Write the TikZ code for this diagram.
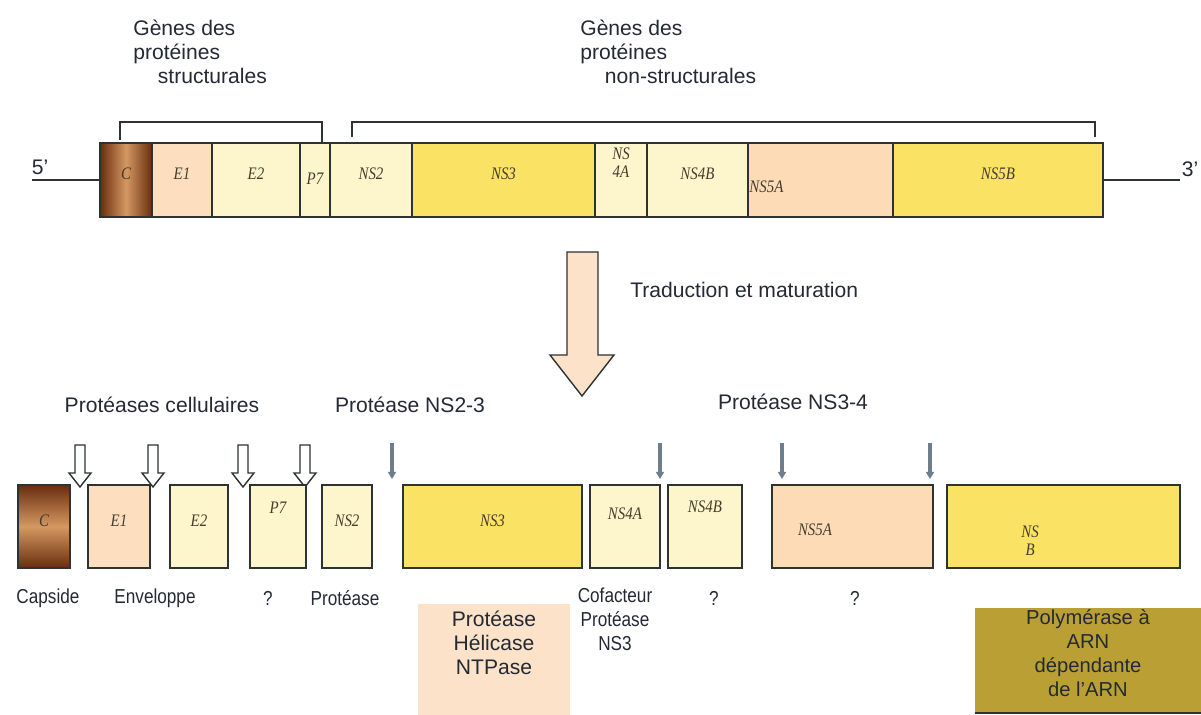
\documentclass[tikz,border=0pt]{standalone}
\usepackage{fontspec}
\setmainfont{Liberation Sans}
\newfontfamily\genefam[FakeStretch=0.85]{Liberation Serif}
\newfontfamily\narrowfam[FakeStretch=0.85]{Liberation Sans}
\usetikzlibrary{fit,arrows.meta}

\definecolor{edge}{RGB}{45,50,50}
\definecolor{ink}{RGB}{35,42,52}
\definecolor{cdark}{RGB}{105,45,15}
\definecolor{clight}{RGB}{212,152,98}
\definecolor{peach}{RGB}{253,223,192}
\definecolor{pale}{RGB}{253,246,204}
\definecolor{gold}{RGB}{250,226,100}
\definecolor{salmon}{RGB}{252,219,182}
\definecolor{helic}{RGB}{253,226,202}
\definecolor{olive}{RGB}{186,160,52}
\definecolor{cutgrey}{RGB}{110,126,138}
\definecolor{genetext}{RGB}{70,60,45}

\tikzset{
 genelab/.style={inner sep=0pt, text=genetext, font=\genefam\itshape\fontsize{10}{10.5}\selectfont},
 gene/.style={genelab, draw=edge, line width=0.8pt},
 txt/.style={text=ink, inner sep=0pt, font=\fontsize{12}{13.5}\selectfont},
 role/.style={text=ink, inner sep=0pt, align=center, font=\narrowfam\fontsize{11.5}{13.5}\selectfont},
 brace/.style={draw=edge, line width=0.9pt},
 strand/.style={draw=edge, line width=1.3pt},
 nsarrow/.style={draw=cutgrey, line width=2.2pt, -{Triangle[length=4pt,width=4.5pt]}},
 cut/.pic={\draw[draw=edge, fill=white, line width=0.8pt] (-5,0) -- (-5,28) -- (-11,28) -- (0,42) -- (11,28) -- (5,28) -- (5,0) -- cycle;},
}

\begin{document}
\begin{tikzpicture}[x=0.02cm, y=-0.02cm]
\useasboundingbox (0,0) rectangle (1201,715);

% genome
\node[gene, fit={(100,143) (152,217)}, left color=cdark, right color=cdark, middle color=clight] (tc) {C};
\node[gene, fill=peach, fit={(152,143) (212,217)}] (te1) {E1};
\node[gene, fill=pale, fit={(212,143) (300,217)}] (te2) {E2};
\node[gene, fill=pale, fit={(300,143) (330,217)}, label={[genelab, anchor=north, yshift=-17pt]north:P7}] (tp7) {};
\node[gene, fill=pale, fit={(330,143) (412,217)}] (tns2) {NS2};
\node[gene, fill=gold, fit={(412,143) (595,217)}] (tns3) {NS3};
\node[gene, fill=pale, fit={(595,143) (647,217)}, label={[genelab, align=center, anchor=north, yshift=-3pt]north:NS\\4A}] (tns4a) {};
\node[gene, fill=pale, fit={(647,143) (748,217)}] (tns4b) {NS4B};
\node[gene, fill=salmon, fit={(748,143) (893,217)}, label={[genelab, anchor=west, xshift=1pt, yshift=-4pt]west:NS5A}] (tns5a) {};
\node[gene, fill=gold, fit={(893,143) (1103,217)}] (tns5b) {NS5B};

\coordinate (five) at (32,180);
\coordinate (three) at (1180,180);
\draw[strand] (five) -- (tc.west);
\draw[strand] (tns5b.east) -- (three);
\node[txt] (l5) at (40,167) {5'};
\node[txt] (l3) at (1190,169) {3'};

% brackets
\coordinate (sa) at (120,140);
\coordinate (sb) at (322,142);
\coordinate (na) at (352,137);
\coordinate (nb) at (1095,137);
\draw[brace] (sa) -- ++(0,-18) -| (sb);
\draw[brace] (na) -- ++(0,-15) -| (nb);
\node[txt, anchor=north west, align=left] (gs) at (133,20) {Gènes des\\protéines\\\hspace*{14pt}structurales};
\node[txt, anchor=north west, align=left] (gns) at (580,20) {Gènes des\\protéines\\\hspace*{14pt}non-structurales};

% translation
\draw[draw=edge, fill=helic, line width=0.8pt] (567,252) -- (598,252) -- (598,355) -- (614,355) -- (582,396) -- (550,355) -- (567,355) -- cycle;
\node[txt, anchor=west] (trad) at (630,290) {Traduction et maturation};

\node[txt] (pcell) at (162,405) {Protéases cellulaires};
\node[txt] (p23) at (410,405) {Protéase NS2-3};
\node[txt] (p34) at (793,402) {Protéase NS3-4};

\pic (c1) at (80,445) {cut};
\pic (c2) at (153,445) {cut};
\pic (c3) at (243,445) {cut};
\pic (c4) at (305,445) {cut};

\coordinate (g1) at (392,443); \coordinate (e1) at (392,479);
\coordinate (g2) at (660,443); \coordinate (e2) at (660,479);
\coordinate (g3) at (782,443); \coordinate (e3) at (782,479);
\coordinate (g4) at (930,443); \coordinate (e4) at (930,479);
\draw[nsarrow] (g1) -- (e1);
\draw[nsarrow] (g2) -- (e2);
\draw[nsarrow] (g3) -- (e3);
\draw[nsarrow] (g4) -- (e4);

% proteins
\node[gene, fit={(18,485) (70,568)}, top color=cdark, bottom color=cdark, middle color=clight] (bc) {C};
\node[gene, fill=peach, fit={(88,485) (150,568)}] (be1) {E1};
\node[gene, fill=pale, fit={(170,485) (228,568)}] (be2) {E2};
\node[gene, fill=pale, fit={(250,485) (306,568)}, label={[genelab, anchor=north, yshift=-10pt]north:P7}] (bp7) {};
\node[gene, fill=pale, fit={(322,485) (372,568)}] (bns2) {NS2};
\node[gene, fill=gold, fit={(403,485) (582,568)}] (bns3) {NS3};
\node[gene, fill=pale, fit={(590,485) (660,568)}, label={[genelab, anchor=north, yshift=-13pt]north:NS4A}] (bns4a) {};
\node[gene, fill=pale, fit={(668,485) (742,568)}, label={[genelab, anchor=north, yshift=-9pt]north:NS4B}] (bns4b) {};
\node[gene, fill=salmon, fit={(772,485) (933,568)}, label={[genelab, anchor=west, xshift=15pt, yshift=-2pt]west:NS5A}] (bns5a) {};
\node[gene, fill=gold, fit={(947,485) (1180,568)}, label={[genelab, align=center, xshift=-19pt, yshift=-8pt]center:NS\\B}] (bns5b) {};

% roles
\node[role] (cap) at (48,598) {Capside};
\node[role] (env) at (155,598) {Enveloppe};
\node[role] (q1) at (268,598) {?};
\node[role] (prot) at (345,598) {Protéase};
\node[fill=helic, inner sep=0pt, fit={(418,604) (570,715)}] (hbox) {};
\node[txt, align=center, anchor=north] (hel) at (494,611) {Protéase\\Hélicase\\NTPase};
\node[role, anchor=north] (cof) at (615,588) {Cofacteur\\Protéase\\NS3};
\node[role] (q2) at (714,598) {?};
\node[role] (q3) at (855,598) {?};
\node[txt, fill=olive, align=center, font=\fontsize{11.5}{13.8}\selectfont, fit={(975,608) (1201,713)}] (poly) {Polymérase à\\ARN\\dépendante\\de l'ARN};
\draw[draw=edge, line width=1.2pt] (poly.south west) -- (poly.south east);

\end{tikzpicture}
\end{document}
